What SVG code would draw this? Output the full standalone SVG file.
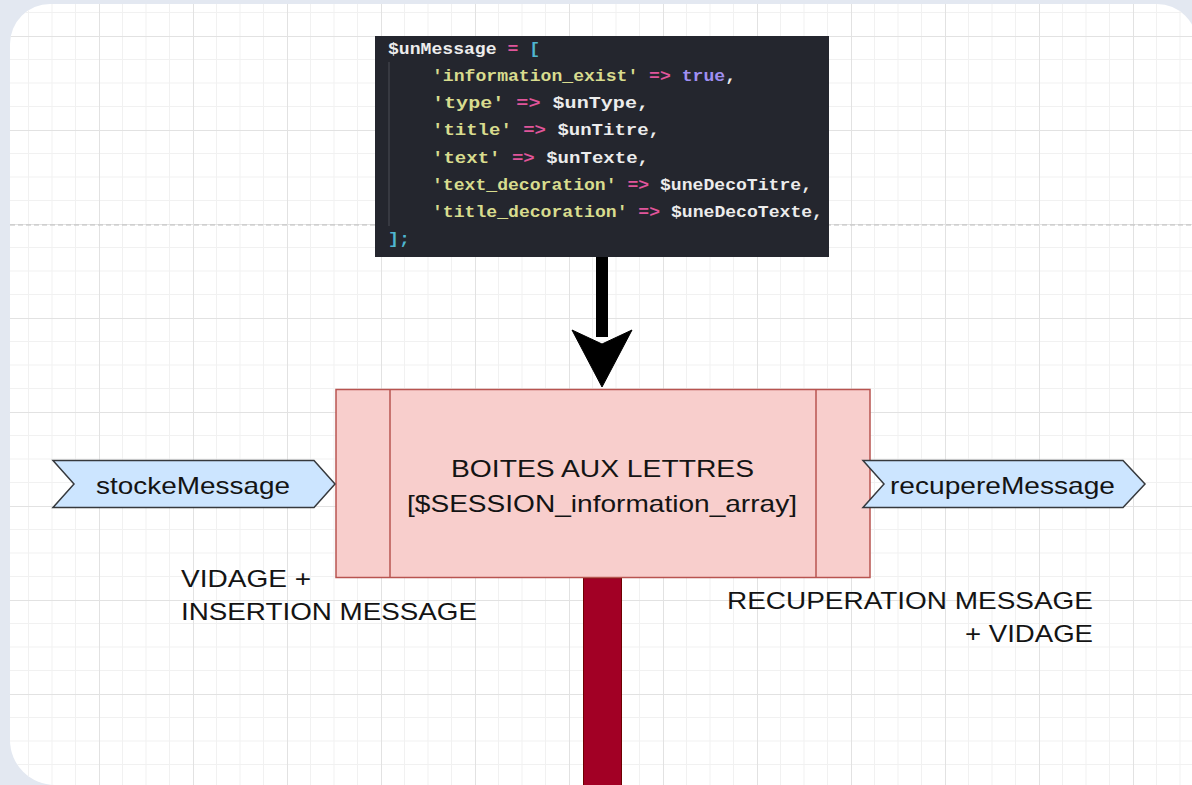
<svg xmlns="http://www.w3.org/2000/svg" width="1192" height="785" viewBox="0 0 1192 785">
  <style>
    .lbl { font-family: "Liberation Sans", Arial, sans-serif; font-size: 24px; fill: #141414; }
    .code { font-family: "Liberation Mono", "DejaVu Sans Mono", monospace; font-size: 17px; font-weight: bold; fill: #ececec; }
    .pk { fill: #e0559a; }
    .st { fill: #d8dc8e; }
    .br { fill: #4fb6d0; }
    .kw { fill: #a08ff2; }
    .step { fill: #cce5ff; stroke: #36393d; stroke-width: 1.5; }
  </style>
  <defs>
    <pattern id="grid" patternUnits="userSpaceOnUse" x="5" y="36" width="94" height="94">
      <path d="M23.5 0V94M47 0V94M70.5 0V94M0 23.5H94M0 47H94M0 70.5H94" stroke="#f1f1f1" stroke-width="1" fill="none"/>
      <path d="M0.5 0V94M0 0.5H94" stroke="#e2e2e2" stroke-width="1" fill="none"/>
    </pattern>
    <clipPath id="panel">
      <path d="M10,44 A40,40 0 0 1 50,4 H1157 A40,40 0 0 1 1197,44 V785 H55 A45,45 0 0 1 10,740 Z"/>
    </clipPath>
  </defs>

  <rect width="1192" height="785" fill="#e3e8f1"/>
  <path d="M10,44 A40,40 0 0 1 50,4 H1157 A40,40 0 0 1 1197,44 V785 H55 A45,45 0 0 1 10,740 Z" fill="#ffffff"/>
  <g clip-path="url(#panel)">
    <rect x="0" y="0" width="1200" height="785" fill="url(#grid)"/>
    <line x1="10" y1="225" x2="1197" y2="225" stroke="#bdbdbd" stroke-width="1" stroke-dasharray="5,3"/>
  </g>

  <g id="code-node">
    <rect x="375" y="36" width="454" height="221" fill="#24262e"/>
    <line x1="389" y1="62" x2="389" y2="226" stroke="#4a4c55" stroke-width="1"/>
    <text class="code" x="388" y="54" textLength="152" lengthAdjust="spacingAndGlyphs">$unMessage <tspan class="pk">=</tspan> <tspan class="br">[</tspan></text>
    <text class="code" x="432" y="81" textLength="304" lengthAdjust="spacingAndGlyphs"><tspan class="st">'information_exist'</tspan> <tspan class="pk">=&gt;</tspan> <tspan class="kw">true</tspan>,</text>
    <text class="code" x="432" y="108" textLength="217" lengthAdjust="spacingAndGlyphs"><tspan class="st">'type'</tspan> <tspan class="pk">=&gt;</tspan> $unType,</text>
    <text class="code" x="432" y="135" textLength="228" lengthAdjust="spacingAndGlyphs"><tspan class="st">'title'</tspan> <tspan class="pk">=&gt;</tspan> $unTitre,</text>
    <text class="code" x="432" y="163" textLength="217" lengthAdjust="spacingAndGlyphs"><tspan class="st">'text'</tspan> <tspan class="pk">=&gt;</tspan> $unTexte,</text>
    <text class="code" x="432" y="190" textLength="380" lengthAdjust="spacingAndGlyphs"><tspan class="st">'text_decoration'</tspan> <tspan class="pk">=&gt;</tspan> $uneDecoTitre,</text>
    <text class="code" x="432" y="217" textLength="391" lengthAdjust="spacingAndGlyphs"><tspan class="st">'title_decoration'</tspan> <tspan class="pk">=&gt;</tspan> $uneDecoTexte,</text>
    <text class="code br" x="388" y="244" textLength="22" lengthAdjust="spacingAndGlyphs">];</text>
  </g>

  <g id="connectors">
    <rect x="596" y="257" width="12" height="80" fill="#000000"/>
    <path d="M602,387 L572,330 L602,344 L632,330 Z" fill="#000000" stroke="#000000" stroke-width="1"/>
    <rect x="583.5" y="578" width="38" height="210" fill="#a20025" stroke="#6f0000" stroke-width="1"/>
  </g>

  <g id="mailbox-node">
    <rect x="336" y="389.5" width="534" height="188" fill="#f8cecc" stroke="#b85450" stroke-width="1.5"/>
    <line x1="390" y1="389.5" x2="390" y2="577.5" stroke="#b85450" stroke-width="1.5"/>
    <line x1="816" y1="389.5" x2="816" y2="577.5" stroke="#b85450" stroke-width="1.5"/>
    <text class="lbl" x="451" y="477" textLength="303" lengthAdjust="spacingAndGlyphs">BOITES AUX LETTRES</text>
    <text class="lbl" x="407" y="512" textLength="390" lengthAdjust="spacingAndGlyphs">[$SESSION_information_array]</text>
  </g>

  <g id="stocke-node">
    <path class="step" d="M53,460.5 H314 L335,484 L314,507.5 H53 L74,484 Z"/>
    <text class="lbl" x="96" y="494" textLength="194" lengthAdjust="spacingAndGlyphs">stockeMessage</text>
  </g>

  <g id="recupere-node">
    <path class="step" d="M863,460.5 H1123 L1145,484 L1123,507.5 H863 L884,484 Z"/>
    <text class="lbl" x="890" y="494" textLength="225" lengthAdjust="spacingAndGlyphs">recupereMessage</text>
  </g>

  <g id="label-left">
    <text class="lbl" x="181" y="587" textLength="130" lengthAdjust="spacingAndGlyphs">VIDAGE +</text>
    <text class="lbl" x="181" y="620" textLength="296" lengthAdjust="spacingAndGlyphs">INSERTION MESSAGE</text>
  </g>

  <g id="label-right">
    <text class="lbl" x="1093" y="609" text-anchor="end" textLength="366" lengthAdjust="spacingAndGlyphs">RECUPERATION MESSAGE</text>
    <text class="lbl" x="1093" y="642" text-anchor="end" textLength="128" lengthAdjust="spacingAndGlyphs">+ VIDAGE</text>
  </g>
</svg>
